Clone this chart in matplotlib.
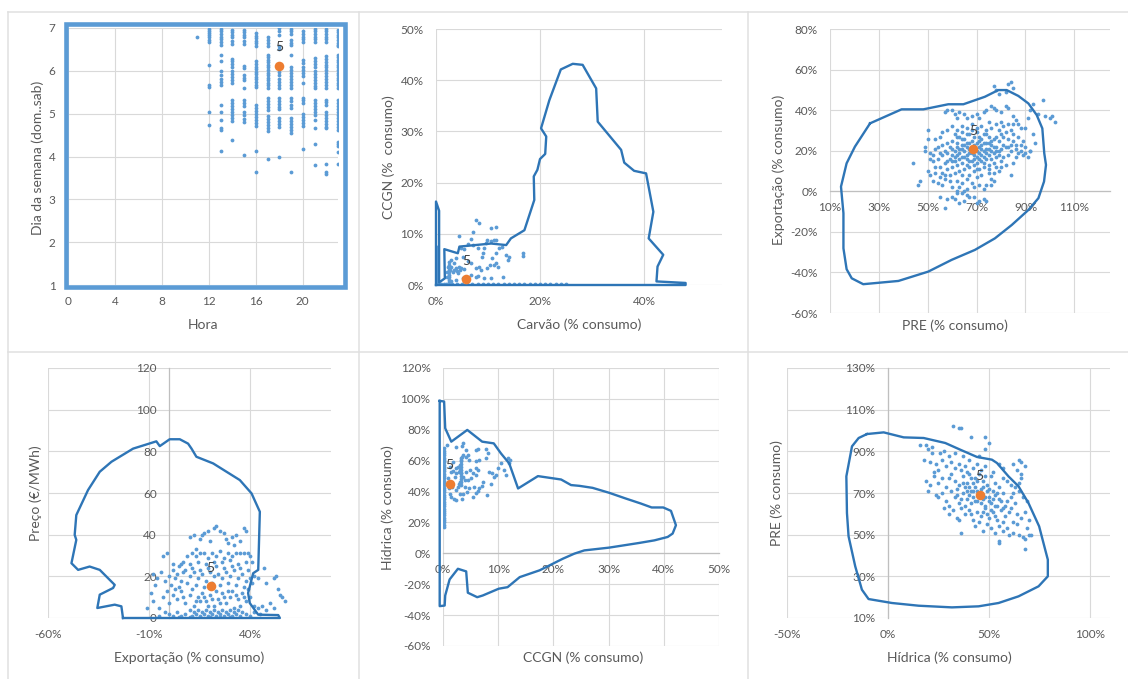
import matplotlib.pyplot as plt
from matplotlib.lines import Line2D
from matplotlib.patches import Rectangle
from matplotlib.ticker import FuncFormatter

plt.rcParams['font.family'] = ['Lato', 'DejaVu Sans']

# ---- panel 1: Hora vs Dia da semana ----
hora = [11, 12, 13, 14, 15, 16, 17, 18, 19, 20, 21, 22, 23]
dia_por_hora = [
    [6.78],
    [6.98, 6.93, 6.88, 6.83, 6.78, 6.72, 6.67, 6.14, 5.68, 5.62, 5.05, 4.74],
    [6.98, 6.92, 6.86, 6.8, 6.74, 6.67, 6.6, 6.38, 6.22, 5.99, 5.9, 5.82, 5.74, 5.68,
     5.21, 5.05, 4.86, 4.66, 4.63, 4.12],
    [6.96, 6.9, 6.84, 6.78, 6.7, 6.62, 6.28, 6.22, 6.16, 6.1, 5.99, 5.92, 5.85, 5.78,
     5.72, 5.33, 5.25, 5.18, 5.1, 5.03, 4.96, 4.89, 4.82, 4.38],
    [6.96, 6.9, 6.84, 6.78, 6.7, 6.62, 6.12, 6.07, 5.9, 5.84, 5.79, 5.6, 5.33, 5.26,
     5.19, 5.05, 4.98, 4.88, 4.8, 4.04],
    [6.88, 6.82, 6.76, 6.7, 6.64, 6.57, 6.22, 6.16, 6.1, 6.04, 5.98, 5.92, 5.86, 5.8,
     5.74, 5.68, 5.62, 5.21, 5.14, 5.07, 5.0, 4.93, 4.86, 4.79, 4.72, 4.12, 3.64],
    [6.8, 6.72, 6.64, 6.57, 6.38, 6.32, 6.26, 6.2, 6.14, 6.08, 6.02, 5.96, 5.9, 5.84,
     5.78, 5.72, 5.66, 5.6, 5.37, 5.3, 5.23, 5.16, 5.09, 4.95, 4.88, 4.81, 4.74, 4.67,
     4.6, 3.95],
    [7.0, 6.92, 6.84, 6.57, 6.5, 6.14, 6.06, 5.98, 5.9, 5.82, 5.74, 5.66, 5.6, 5.37,
     5.3, 5.22, 5.15, 5.1, 4.9, 4.82, 4.75, 4.7, 3.99],
    [6.98, 6.92, 6.86, 6.72, 6.66, 6.6, 6.38, 6.1, 6.03, 5.96, 5.89, 5.82, 5.75, 5.68,
     5.6, 5.37, 5.3, 5.2, 5.13, 4.9, 4.83, 4.76, 4.69, 4.62, 4.56, 3.63],
    [6.92, 6.86, 6.8, 6.74, 6.68, 6.26, 6.18, 6.1, 6.02, 5.94, 5.87, 5.72, 5.37, 5.31,
     5.25, 5.0, 4.93, 4.86, 4.79, 4.72, 4.18],
    [6.98, 6.92, 6.86, 6.8, 6.74, 6.67, 6.3, 6.23, 6.16, 6.1, 5.99, 5.92, 5.85, 5.78,
     5.71, 5.64, 5.6, 5.33, 5.25, 5.17, 5.1, 5.03, 4.98, 4.86, 4.66, 4.3, 3.81],
    [6.98, 6.92, 6.86, 6.8, 6.74, 6.67, 6.34, 6.27, 6.2, 6.13, 6.1, 6.03, 5.96, 5.89,
     5.82, 5.75, 5.68, 5.6, 5.33, 5.27, 5.21, 5.05, 4.98, 4.91, 4.84, 4.77, 4.7, 4.66,
     3.83, 3.63, 3.58],
    [6.96, 6.9, 6.84, 6.78, 6.72, 6.66, 6.6, 6.57, 6.38, 6.32, 6.26, 6.2, 6.14, 6.08,
     6.02, 5.96, 5.9, 5.84, 5.78, 5.72, 5.66, 5.6, 5.33, 5.26, 5.19, 5.12, 5.05, 4.98,
     4.91, 4.84, 4.77, 4.7, 4.63, 4.35, 4.29, 4.24, 4.1, 3.83],
]
hora_sel, dia_sel = 18, 6.12

# ---- panel 2: Carvao vs CCGN (% consumo) ----
carvao_base_x = [0.5, 1, 1.5, 2, 3, 4, 5, 6, 7, 8, 9, 10, 11, 12, 13, 14, 15, 16, 17,
                 18, 19, 20, 21, 22, 23, 24, 25]
ccgn_eixo_y = [0.5, 1, 1.5, 2, 2.5, 3, 3.5, 4, 4.5, 5, 5.5, 6, 6.5, 7, 7.5]
carvao_col_y = [0.5, 1, 1.5, 2, 2.5, 3, 3.5, 4, 4.5]
carvao_ccgn = [(7.7, 12.6), (8.3, 12.2), (4.4, 9.6), (7.1, 10.3), (6.7, 8.9), (9.6, 8.3),
               (9.9, 8.8), (10.6, 11.1), (11.5, 11.3), (11.2, 8.8), (12.2, 7.3), (12.7, 7.5),
               (13.5, 5.9), (14.0, 5.5), (13.8, 4.9), (16.7, 6.2), (16.7, 5.7), (11.5, 6.2),
               (10.7, 5.2), (11.9, 3.6), (12.8, 1.6), (10.6, 1.3), (8.3, 3.6), (8.7, 2.9),
               (7.7, 3.3), (6.7, 4.2), (6.1, 4.6), (5.1, 5.5), (3.8, 5.3), (3.5, 4.2),
               (2.9, 3.6), (2.6, 2.9), (2.2, 1.6), (3.2, 2.6), (4.2, 2.3), (4.8, 3.3),
               (5.4, 3.1), (4.5, 3.6), (3.8, 3.3), (2.9, 4.9), (2.4, 3.6), (2.2, 2.6),
               (7.7, 1.6), (8.0, 1.8), (6.7, 2.0), (9.0, 6.2), (8.8, 5.5), (9.3, 7.2),
               (10.6, 8.5), (11.5, 8.7), (6.1, 8.1), (4.8, 7.2), (5.4, 7.0), (7.1, 7.8),
               (8.0, 7.2), (11.5, 4.2), (10.3, 3.9), (9.9, 3.3), (11.2, 3.9), (9.3, 1.3),
               (5.1, 1.3), (3.8, 1.0), (2.9, 0.7), (3.5, 3.0), (4.0, 2.8), (4.6, 2.9)]
carvao_sel, ccgn_sel = 5.8, 1.1
carvao_contorno = [(0.0, 0.0), (0.0, 16.3), (0.6, 14.5), (0.6, 0.5), (1.7, 1.3), (1.6, 7.0),
                   (4.2, 6.2), (4.5, 7.5), (10.6, 8.1), (12.5, 7.9), (13.5, 7.8), (14.4, 9.1),
                   (17.0, 10.7), (18.9, 16.6), (18.8, 21.2), (19.5, 22.5), (20.0, 24.6),
                   (21.0, 25.6), (21.2, 29.0), (20.2, 30.6), (21.8, 36.1), (24.0, 42.1),
                   (26.3, 43.2), (28.2, 43.0), (30.8, 38.4), (31.1, 31.9), (35.6, 26.4),
                   (36.2, 23.9), (38.1, 22.3), (40.4, 21.8), (41.8, 14.3), (40.9, 9.1),
                   (43.7, 5.9), (42.6, 3.6), (42.4, 0.7), (48.0, 0.4), (48.0, 0.0), (0.0, 0.0)]

# ---- panel 3: PRE vs Exportacao (% consumo) ----
pre_exp = [(77, 52), (78, 50), (83, 53), (84, 54), (85, 51), (82, 49), (79, 48),
           (93, 43), (97, 45), (98, 37), (100, 36), (101, 37), (102, 34), (95, 38), (92, 40),
           (91, 36), (90, 31), (88, 31), (93, 28), (94, 24), (92, 20), (89, 18), (91, 17),
           (87, 19), (86, 21), (84, 23), (85, 14), (82, 13), (80, 15), (84, 8), (79, 10),
           (77, 9), (75, 11), (76, 6),
           (44, 14), (46, 3), (47, 5), (49, 20), (49, 22), (50, 30), (50, 26), (50, 10),
           (51, 8), (51, 16), (52, 18), (53, 12), (54, 4), (55, -3), (56, 3), (57, -8),
           (57, 8), (58, -4), (59, 5), (60, -3), (61, -4), (62, 0), (63, -6), (64, -1),
           (65, -5), (66, 1), (67, -3), (69, -3), (71, -5), (73, -4), (74, -5), (70, -6),
           (57, 39), (58, 40), (60, 40), (61, 38), (62, 36), (63, 39), (65, 38), (66, 36),
           (68, 37), (70, 38), (71, 36), (73, 39), (74, 40), (76, 42), (77, 41), (78, 40),
           (80, 39), (82, 42), (83, 41), (85, 37), (86, 35), (87, 33), (83, 33), (81, 32),
           (80, 34), (79, 30), (78, 33), (76, 31), (75, 34), (74, 30), (72, 32), (70, 31),
           (68, 33), (66, 31), (64, 32), (62, 30), (60, 32), (58, 30), (56, 29), (55, 27),
           (53, 26), (54, 22), (56, 23), (58, 24), (60, 25), (61, 28), (63, 27), (65, 26),
           (67, 28), (69, 27), (71, 27), (73, 28), (75, 27), (77, 26), (79, 25), (81, 27),
           (83, 26), (85, 28), (80, 21), (78, 22), (76, 23), (74, 24), (72, 23), (70, 24),
           (68, 25), (66, 22), (64, 23), (62, 22), (60, 21), (58, 19), (56, 18), (54, 16),
           (52, 15), (55, 12), (57, 14), (59, 16), (61, 17), (63, 19), (65, 20), (67, 19),
           (69, 18), (71, 19), (73, 20), (75, 21), (77, 19), (79, 18), (81, 17), (83, 18),
           (82, 22), (84, 20), (86, 17), (74, 16), (72, 15), (70, 14), (68, 15), (66, 16),
           (64, 14), (62, 13), (60, 12), (58, 11), (56, 9), (55, 7), (57, 6), (59, 8),
           (61, 9), (63, 10), (65, 11), (67, 12), (69, 10), (71, 11), (73, 12), (75, 13),
           (77, 14), (78, 12), (76, 16), (80, 12), (66, 6), (64, 4), (62, 5), (60, 2),
           (68, 4), (70, 7), (72, 8), (74, 3), (67, 8), (65, 0), (63, 2), (69, 2), (71, 3),
           (73, 1), (62, -1), (66, -2), (64, 8), (70, 20), (66, 18), (64, 21), (62, 24),
           (60, 18), (68, 22), (72, 21), (74, 19), (70, 17), (67, 24), (65, 23), (63, 16),
           (61, 20), (69, 23), (71, 25), (73, 17), (75, 18), (77, 22), (79, 20), (76, 20),
           (78, 17), (72, 26), (74, 28), (70, 29), (68, 30), (66, 28), (64, 29), (62, 18),
           (59, 22), (57, 20), (55, 19), (53, 21), (51, 19), (53, 9), (52, 5), (58, 15),
           (67, 15), (69, 13), (71, 16), (73, 14), (75, 9), (77, 5), (76, 3), (85, 33),
           (88, 23), (90, 22), (89, 25), (87, 27), (84, 30), (82, 29), (80, 28), (78, 27),
           (81, 23), (83, 22), (85, 25), (86, 23), (88, 20), (90, 19), (92, 20),
           (65, 17), (67, 21), (69, 16), (71, 22), (73, 24), (63, 21), (61, 15), (75, 24),
           (66, 13), (64, 26), (62, 27), (70, 11), (72, 18), (74, 21), (68, 19), (60, 15),
           (76, 25), (78, 20), (64, 17), (66, 24)]
pre_sel, exp_sel = 68.7, 20.9
pre_contorno = [(26.4, 33.5), (39.3, 40.4), (48.2, 40.4), (58.4, 42.9), (64.6, 42.9),
                (73.4, 46.6), (78.9, 49.9), (82.3, 49.9), (87.1, 47.0), (91.2, 43.3),
                (94.6, 37.6), (96.9, 31.0), (97.7, 18.7), (98.4, 13.0), (97.6, 4.8),
                (95.3, -3.4), (91.2, -9.2), (84.4, -16.6), (77.5, -23.2), (69.3, -28.9),
                (59.8, -33.8), (50.2, -39.6), (38.0, -44.2), (23.6, -45.8), (18.9, -42.9),
                (16.8, -38.4), (15.5, -28.1), (15.5, -10.8), (15.0, -4.3), (14.5, 2.3),
                (16.8, 13.8), (20.2, 22.0), (26.4, 33.5)]

# ---- panel 4: Exportacao vs Preco ----
exp_preco = [(10, 39), (15, 38), (16, 40), (17, 41), (19, 42), (22, 43), (23, 44), (25, 42),
             (27, 41), (28, 38), (29, 36), (31, 39), (32, 35), (37, 43), (38, 42), (20, 37),
             (12, 40), (13, 33), (35, 37), (33, 40),
             (-3, 30), (-1, 31), (5, 25), (7, 27), (9, 30), (11, 31), (13, 30), (15, 31),
             (17, 31), (19, 29), (21, 31), (23, 30), (25, 32), (27, 29), (29, 31), (31, 30),
             (33, 31), (35, 31), (37, 31), (39, 31), (40, 30), (41, 27), (38, 27), (34, 26),
             (30, 28), (26, 27), (22, 27), (18, 26), (14, 27), (10, 26), (6, 26), (2, 26),
             (-8, 21), (-6, 19), (-4, 22), (-2, 18), (0, 20), (2, 23), (4, 21), (6, 18),
             (8, 23), (10, 20), (12, 22), (14, 19), (16, 21), (18, 18), (20, 22), (22, 20),
             (24, 21), (26, 19), (28, 22), (30, 20), (32, 23), (34, 19), (36, 21), (38, 18),
             (40, 19), (42, 20), (44, 19), (47, 24), (52, 19), (53, 20), (48, 17), (-7, 16),
             (1, 16), (5, 15), (9, 17), (13, 16), (17, 15), (21, 17), (25, 16), (29, 17),
             (33, 16), (37, 15), (41, 17), (3, 19), (7, 22), (11, 24), (15, 23), (19, 24),
             (23, 25), (27, 24), (31, 25), (35, 24), (39, 23),
             (-11, 5), (-9, 12), (-8, 8), (-5, 5), (-3, 10), (-1, 13), (0, 7), (2, 11),
             (4, 9), (6, 13), (8, 7), (10, 11), (12, 6), (14, 10), (16, 12), (18, 8),
             (20, 11), (22, 6), (24, 9), (26, 12), (28, 7), (30, 10), (32, 5), (34, 9),
             (36, 12), (38, 8), (40, 10), (42, 6), (44, 5), (46, 6), (54, 14), (55, 11),
             (56, 10), (57, 8), (52, 5), (50, 7), (11, 14), (15, 8), (19, 6), (23, 13),
             (27, 10), (31, 13), (35, 6), (39, 14), (3, 14), (7, 10), (13, 8), (17, 10),
             (21, 9), (25, 7), (29, 13), (33, 11), (37, 10),
             (-5, 1), (-2, 3), (0, 2), (2, 1), (4, 3), (6, 1), (8, 2), (10, 4), (11, 1),
             (12, 3), (13, 2), (14, 4), (15, 1), (16, 3), (17, 2), (18, 4), (19, 1), (20, 3),
             (21, 2), (22, 4), (23, 1), (24, 3), (25, 2), (26, 4), (27, 1), (28, 3), (29, 2),
             (30, 4), (31, 1), (32, 3), (33, 2), (34, 4), (35, 1), (36, 3), (38, 2), (40, 1),
             (42, 3), (45, 2), (48, 4), (20, 0.5), (25, 0.5), (30, 0.5), (15, 0.5), (10, 0.5),
             (5, 0.5)]
exp_sel4, preco_sel = 20.4, 15.2
exp_contorno = [(-22.9, 0), (54.7, 0), (53.9, 1.4), (44.0, 1.6), (39.8, 7.2), (39.0, 12.0),
                (41.5, 21.5), (44.0, 23.1), (44.8, 51.0), (40.7, 59.8), (34.9, 66.2),
                (28.3, 70.2), (21.7, 74.2), (13.4, 77.4), (11.0, 81.3), (9.3, 83.7),
                (5.2, 85.8), (0.2, 85.8), (-4.7, 82.5), (-6.4, 84.8), (-11.3, 83.3),
                (-17.9, 81.3), (-28.6, 75.0), (-34.4, 70.2), (-40.2, 61.4), (-46.0, 49.4),
                (-46.8, 39.9), (-46.0, 37.5), (-48.4, 26.3), (-45.1, 23.1), (-39.4, 24.7),
                (-34.4, 23.1), (-27.0, 15.9), (-27.8, 14.4), (-34.4, 11.2), (-35.6, 4.8),
                (-27.0, 6.4), (-23.7, 5.6), (-22.9, 0)]

# ---- panel 5: CCGN vs Hidrica ----
hidrica_eixo_y = [17, 18.5, 20, 21.5, 23, 24.5, 26, 27.5, 29, 30.5, 32, 33.5, 35, 36.5, 38,
                  39.5, 41, 42.5, 44, 45.5, 47, 48.5, 50, 51.5, 53, 54.5, 56, 57.5, 59, 60.5,
                  62, 63.5, 65, 66.5, 68]
hidrica_col_y = [44, 46, 48, 50, 52, 54, 56, 58, 60, 62]
ccgn_hid = [(0.7, 70.1), (2.4, 68.6), (3.5, 69.5), (3.7, 71.2), (4.2, 66.9), (6.0, 66.9),
            (6.3, 67.5), (7.7, 67.3), (8.1, 64.7), (4.1, 62.6), (3.6, 63.6), (3.3, 60.4),
            (3.0, 57.1), (2.7, 56.1), (2.4, 55.0), (1.8, 59.3), (1.5, 52.8), (2.1, 49.6),
            (2.9, 52.8), (3.3, 51.7), (3.7, 49.6), (4.2, 52.8), (4.9, 53.9), (5.4, 51.7),
            (6.0, 50.6), (6.3, 53.9), (5.1, 48.5), (3.9, 47.4), (2.9, 45.2), (1.7, 43.1),
            (1.2, 38.7), (2.0, 35.5), (2.4, 34.4), (3.7, 38.7), (3.5, 35.5), (4.3, 39.8),
            (4.8, 42.0), (5.4, 36.6), (5.9, 39.2), (6.3, 40.5), (6.6, 42.0), (7.1, 43.5),
            (7.3, 46.3), (8.0, 37.7), (8.7, 45.2), (8.9, 51.7), (8.3, 52.8), (9.2, 49.6),
            (9.6, 50.6), (10.5, 58.7), (11.1, 53.9), (11.4, 50.6), (11.9, 58.2), (12.2, 60.4),
            (11.7, 61.5), (9.9, 55.0), (0.9, 48.5), (1.0, 42.0), (1.3, 56.1), (2.7, 43.1),
            (3.9, 43.1), (4.5, 47.4), (5.7, 43.1), (6.6, 60.4), (6.0, 60.0), (4.8, 60.4),
            (4.5, 63.6), (3.5, 62.6), (3.1, 53.9), (2.4, 51.7), (1.9, 53.5), (1.5, 46.3),
            (2.3, 40.9), (3.0, 38.7), (1.5, 36.6), (3.0, 46.3), (6.0, 55.0), (7.8, 61.5)]
ccgn_sel5, hid_sel = 1.2, 44.8
ccgn_contorno = [(-0.6, 98.7), (0.2, 98.3), (0.4, 81.0), (1.5, 72.3), (4.4, 79.9), (7.1, 72.3),
                 (9.2, 71.2), (10.5, 64.7), (12.0, 58.2), (13.6, 42.0), (17.2, 50.0),
                 (21.4, 47.8), (23.2, 44.2), (24.7, 43.7), (27.1, 42.4), (30.1, 39.2),
                 (33.1, 35.5), (35.8, 32.3), (37.8, 29.7), (39.9, 29.7), (41.3, 27.5),
                 (42.2, 18.2), (41.6, 12.8), (40.7, 10.6), (38.3, 8.4), (35.5, 6.7),
                 (30.1, 3.7), (25.6, 1.9), (23.8, -0.2), (21.7, -3.5), (19.3, -7.8),
                 (17.5, -11.0), (13.9, -15.4), (11.7, -21.9), (10.1, -22.9), (7.2, -27.3),
                 (6.2, -28.4), (4.5, -25.5), (4.2, -11.7), (2.7, -10.0), (1.2, -16.9),
                 (0.4, -27.3), (0.3, -33.8), (-0.6, -34.2), (-0.6, 98.7)]

# ---- panel 6: Hidrica vs PRE ----
hid_pre = [(32, 102), (35, 101), (36, 101), (41, 97), (48, 97), (50, 94), (48, 91), (16, 93),
           (19, 93), (22, 92), (20, 91), (26, 89), (28, 90), (30, 88), (33, 89), (37, 88),
           (22, 89), (45, 88),
           (18, 86), (21, 85), (24, 84), (27, 86), (29, 83), (31, 85), (33, 82), (35, 84),
           (38, 83), (40, 86), (42, 82), (44, 84), (46, 81), (48, 83), (52, 80), (55, 84),
           (57, 82), (62, 84), (65, 86), (66, 85), (68, 83), (64, 81), (36, 81), (39, 80),
           (25, 81), (23, 80),
           (19, 76), (21, 74), (23, 78), (25, 75), (27, 77), (29, 73), (31, 79), (33, 76),
           (35, 74), (37, 78), (39, 75), (41, 77), (43, 73), (45, 79), (47, 76), (49, 74),
           (51, 78), (53, 75), (55, 73), (57, 77), (59, 76), (61, 74), (66, 79), (66, 77),
           (63, 73), (65, 75), (34, 72), (30, 77), (42, 75), (46, 72), (50, 72), (38, 73),
           (40, 79), (44, 76), (48, 78),
           (20, 71), (24, 69), (25, 68), (27, 70), (29, 66), (31, 71), (33, 68), (35, 65),
           (37, 70), (39, 67), (41, 71), (43, 66), (45, 69), (47, 67), (49, 71), (51, 65),
           (53, 69), (55, 67), (57, 70), (59, 66), (61, 68), (63, 65), (65, 71), (67, 68),
           (69, 66), (30, 64), (34, 69), (38, 64), (42, 68), (46, 65), (50, 68), (54, 64),
           (58, 64), (62, 70), (36, 67), (40, 69), (44, 71), (48, 64), (52, 71), (56, 66),
           (28, 63), (30, 60), (32, 62), (34, 58), (36, 63), (38, 60), (40, 62), (42, 57),
           (44, 61), (46, 59), (48, 63), (50, 58), (52, 61), (54, 57), (56, 62), (58, 59),
           (60, 61), (62, 56), (64, 60), (66, 58), (68, 61), (70, 57), (45, 56), (49, 60),
           (53, 59), (57, 56), (61, 63), (35, 57), (41, 60), (47, 61),
           (36, 51), (43, 54), (47, 52), (49, 55), (51, 53), (53, 51), (55, 54), (55, 46),
           (55, 47), (57, 52), (59, 53), (60, 50), (62, 51), (64, 55), (65, 50), (67, 49),
           (68, 48), (68, 43), (70, 50), (71, 50), (69, 53),
           (40, 73), (42, 71), (44, 66), (46, 70), (48, 68), (50, 66), (52, 67), (54, 70),
           (43, 77), (47, 73), (51, 62), (53, 64), (39, 71), (41, 65), (37, 75), (57, 63)]
hid_sel6, pre_sel6 = 45.4, 68.9
hid_contorno = [(-10.4, 98.3), (-2.1, 99.1), (7.8, 96.7), (17.7, 96.4), (28.4, 94.0),
                (35.8, 90.8), (44.1, 87.3), (51.5, 86.0), (54.0, 84.4), (59.7, 78.0),
                (64.7, 73.2), (69.6, 65.2), (74.9, 54.0), (77.9, 42.8), (79.2, 38.0),
                (79.2, 30.0), (74.6, 25.2), (64.7, 20.4), (54.8, 17.2), (44.9, 15.6),
                (31.7, 15.1), (15.2, 15.9), (2.0, 17.2), (-9.6, 19.1), (-12.9, 23.6),
                (-16.2, 34.8), (-19.5, 49.2), (-20.3, 60.4), (-20.6, 78.0), (-17.8, 92.4),
                (-14.5, 96.4), (-10.4, 98.3)]

# ---------------- drawing ----------------
W, H = 1128, 679
BLUE = '#5b9bd5'
LINE = '#2e75b6'
ORANGE = '#ed7d31'
GRID = '#d9d9d9'
TXT = '#595959'

fig = plt.figure(figsize=(W / 100, H / 100), dpi=100)
fig.patch.set_facecolor('white')


def px_axes(x0, y0, x1, y1):
    return fig.add_axes([x0 / W, 1 - y1 / H, (x1 - x0) / W, (y1 - y0) / H])


pct = FuncFormatter(lambda v, p: f'{v:.0f}%')


def setup(ax, xlim, ylim, xticks, yticks, xfmt=None, yfmt=None):
    ax.set_xlim(xlim)
    ax.set_ylim(ylim)
    ax.set_xticks(xticks)
    ax.set_yticks(yticks)
    if xfmt:
        ax.xaxis.set_major_formatter(xfmt)
    if yfmt:
        ax.yaxis.set_major_formatter(yfmt)
    ax.grid(True, color=GRID, lw=0.8)
    ax.set_axisbelow(True)
    for s in ax.spines.values():
        s.set_visible(False)
    ax.tick_params(length=0, labelsize=8.5, labelcolor=TXT)
    ax.tick_params(axis='x', pad=8)
    ax.tick_params(axis='y', pad=9)
    ax.patch.set_alpha(0)


def cross(ax, side, at):
    sp = ax.spines[side]
    sp.set_position(('data', at))
    sp.set_visible(True)
    sp.set_color('#bfbfbf')
    sp.set_linewidth(0.9)


def dots(ax, xs, ys):
    ax.scatter(xs, ys, s=7.5, color=BLUE, lw=0, zorder=3)


def outline(ax, pts):
    ax.plot([p[0] for p in pts], [p[1] for p in pts], color=LINE, lw=1.7,
            solid_joinstyle='round', zorder=4, clip_on=False)


def sel(ax, x, y, ly):
    ax.scatter([x], [y], s=48, color=ORANGE, lw=0, zorder=5)
    ax.text(x, ly, '5', ha='center', va='center', fontsize=10, color='#404040', zorder=6)


def ftext(x, y, s, rot=0):
    fig.text(x / W, 1 - y / H, s, ha='center', va='center', rotation=rot,
             fontsize=10, color=TXT)


# panel separators
for x in (8, 359, 748):
    fig.add_artist(Line2D([x / W, x / W], [0, 1 - 12 / H], color='#e0e0e0', lw=1.1))
for y in (12, 352):
    fig.add_artist(Line2D([8 / W, 1], [1 - y / H, 1 - y / H], color='#e0e0e0', lw=1.1))

# panel 1
ax1 = px_axes(68, 28, 338, 285)
setup(ax1, (0, 23), (1, 7), [0, 4, 8, 12, 16, 20], [1, 2, 3, 4, 5, 6, 7])
for h, ds in zip(hora, dia_por_hora):
    dots(ax1, [h] * len(ds), ds)
sel(ax1, hora_sel, dia_sel, 6.55)
fig.add_artist(Rectangle((65.5 / W, 1 - 287 / H), 280 / W, 263 / H, fill=False,
                         edgecolor=BLUE, lw=3.3))
ftext(203, 325, 'Hora')
ftext(38, 158, 'Dia da semana (dom..sab)', 90)

# panel 2
ax2 = px_axes(436, 29, 722, 285)
setup(ax2, (0, 55), (0, 50), [0, 20, 40], [0, 10, 20, 30, 40, 50], pct, pct)
dots(ax2, carvao_base_x, [0.1] * len(carvao_base_x))
dots(ax2, [0.2] * len(ccgn_eixo_y), ccgn_eixo_y)
dots(ax2, [2.5] * len(carvao_col_y), carvao_col_y)
dots(ax2, [p[0] for p in carvao_ccgn], [p[1] for p in carvao_ccgn])
outline(ax2, carvao_contorno)
sel(ax2, carvao_sel, ccgn_sel, 4.6)
ftext(579, 325, 'Carvão (% consumo)')
ftext(389, 157, 'CCGN (%  consumo)', 90)

# panel 3
ax3 = px_axes(830, 29, 1110, 313)
setup(ax3, (10, 124.6), (-60, 80), [10, 30, 50, 70, 90, 110],
      [-60, -40, -20, 0, 20, 40, 60, 80], pct, pct)
cross(ax3, 'bottom', 0)
dots(ax3, [p[0] for p in pre_exp], [p[1] for p in pre_exp])
outline(ax3, pre_contorno)
sel(ax3, pre_sel, exp_sel, 29.9)
ftext(955, 326, 'PRE (% consumo)')
ftext(779, 170, 'Exportação (% consumo)', 90)

# panel 4
ax4 = px_axes(48, 368, 331, 618)
setup(ax4, (-60, 80), (0, 120), [-60, -10, 40], [0, 20, 40, 60, 80, 100, 120], pct)
cross(ax4, 'left', 0)
dots(ax4, [p[0] for p in exp_preco], [p[1] for p in exp_preco])
outline(ax4, exp_contorno)
sel(ax4, exp_sel4, preco_sel, 23.9)
ftext(189, 658, 'Exportação (% consumo)')
ftext(36, 493, 'Preço (€/MWh)', 90)

# panel 5
ax5 = px_axes(443, 368, 719, 646)
setup(ax5, (0, 50), (-60, 120), [0, 10, 20, 30, 40, 50],
      [-60, -40, -20, 0, 20, 40, 60, 80, 100, 120], pct, pct)
cross(ax5, 'bottom', 0)
dots(ax5, [0.2] * len(hidrica_eixo_y), hidrica_eixo_y)
dots(ax5, [3.2] * len(hidrica_col_y), hidrica_col_y)
dots(ax5, [p[0] for p in ccgn_hid], [p[1] for p in ccgn_hid])
outline(ax5, ccgn_contorno)
sel(ax5, ccgn_sel5, hid_sel, 57.1)
ftext(583, 658, 'CCGN (% consumo)')
ftext(388, 508, 'Hídrica (% consumo)', 90)

# panel 6
ax6 = px_axes(787, 368, 1110, 618)
setup(ax6, (-50, 110), (10, 130), [-50, 0, 50, 100], [10, 30, 50, 70, 90, 110, 130],
      pct, pct)
cross(ax6, 'left', 0)
dots(ax6, [p[0] for p in hid_pre], [p[1] for p in hid_pre])
outline(ax6, hid_contorno)
sel(ax6, hid_sel6, pre_sel6, 78.3)
ftext(949, 658, 'Hídrica (% consumo)')
ftext(777, 493, 'PRE (% consumo)', 90)

fig.savefig('out.png', dpi=100)
